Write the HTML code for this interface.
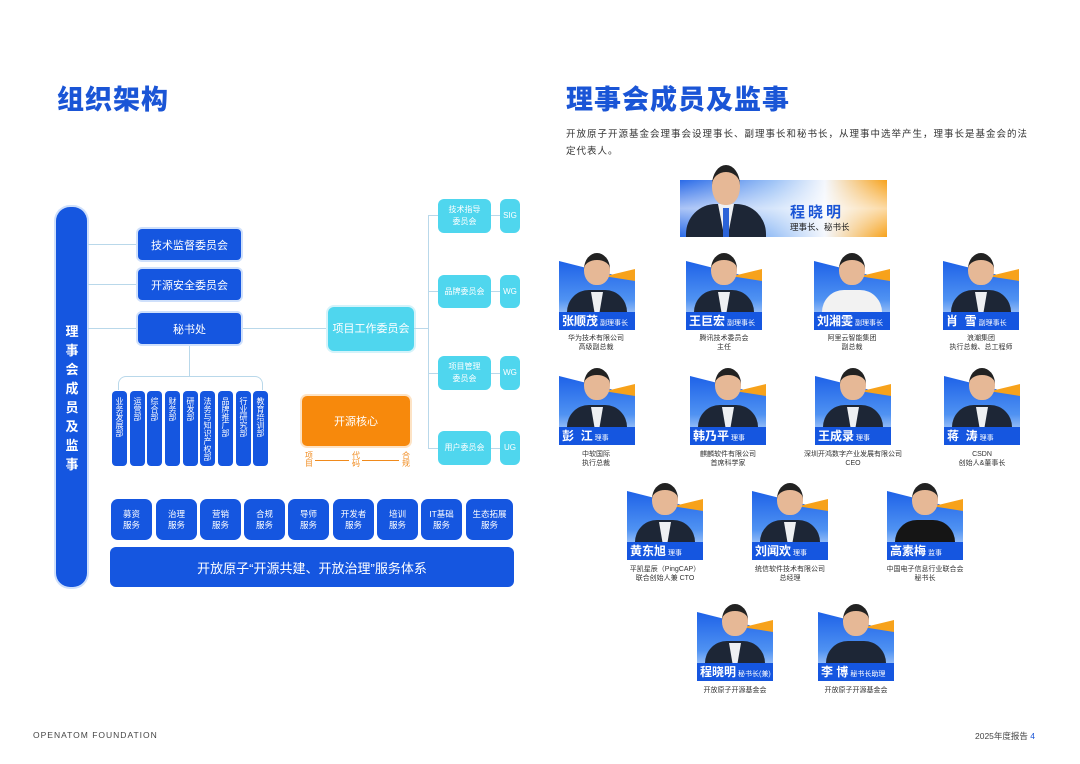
<!DOCTYPE html>
<html><head><meta charset="utf-8">
<style>
*{margin:0;padding:0;box-sizing:border-box}
body{width:1080px;height:764px;background:#fff;position:relative;overflow:hidden;font-family:"Liberation Sans","Noto Sans CJK SC",sans-serif}
.a{position:absolute}
.h1{font-size:27px;font-weight:900;color:#1a55d6;letter-spacing:1px}
.bb{background:#1556e0;color:#fff;border-radius:4px;display:flex;align-items:center;justify-content:center;font-size:11px;box-shadow:0 0 0 2px #cfe0fb}
.cy{background:#4fd6ee;color:#fff;border-radius:6px;display:flex;align-items:center;justify-content:center;text-align:center;font-size:8px;line-height:12px}
.ln{position:absolute;background:#b9d8ea}
.dp{position:absolute;top:391px;width:15px;height:75px;background:#1556e0;border-radius:4px;color:#fff;font-size:8px;line-height:9px;writing-mode:vertical-rl;padding-top:6px;display:flex;align-items:center}
.sv{position:absolute;top:499px;width:41px;height:41px;background:#1556e0;border-radius:7px;color:#fff;font-size:8.5px;line-height:11px;display:flex;align-items:center;justify-content:center;text-align:center}
.card{position:absolute;width:76px;height:77px}
.card .bg{position:absolute;left:0;top:8px;width:76px;height:64px;background:linear-gradient(180deg,#1e62e8,#4f92f2 60%,#cfe2fb);clip-path:polygon(0 0,100% 30%,100% 100%,0 100%)}
.card .or{position:absolute;right:0;top:16px;width:30px;height:12px;background:#f7a21b;clip-path:polygon(0 60%,100% 0,100% 100%)}
.card .body{position:absolute;left:8px;bottom:10px;width:60px;height:30px;background:#1d2636;border-radius:22px 22px 0 0}
.card .shirt{position:absolute;left:32px;bottom:10px;width:12px;height:28px;background:#eef0f3;clip-path:polygon(0 0,100% 0,60% 100%,40% 100%)}
.card .head{position:absolute;left:25px;top:0;width:26px;height:32px;background:#e6b896;border-radius:50% 50% 45% 45%;border-top:7px solid #222}
.card .bar{position:absolute;left:0;bottom:0;width:76px;height:18px;background:#1556e0;color:#fff;font-weight:bold;font-size:12px;line-height:18px;padding-left:3px;white-space:nowrap}
.card .bar span{font-size:7px;font-weight:normal;margin-left:2px}
.cap{position:absolute;width:140px;text-align:center;font-size:7px;line-height:9px;color:#333}
</style></head><body>

<div class="a h1" style="left:57px;top:78px">组织架构</div>
<div class="a h1" style="left:566px;top:78px">理事会成员及监事</div>
<div class="a" style="left:566px;top:126px;width:490px;font-size:9.5px;line-height:17px;color:#333;letter-spacing:1px;white-space:nowrap">开放原子开源基金会理事会设理事长、副理事长和秘书长，从理事中选举产生，理事长是基金会的法<br>定代表人。</div>

<!-- left diagram -->
<div class="a" style="left:56px;top:207px;width:31px;height:380px;background:#1556e0;border-radius:14px;box-shadow:0 0 0 2px #cfe0fb"></div>
<div class="a" style="left:63px;top:322px;width:18px;color:#fff;font-weight:bold;font-size:13px;line-height:19px;text-align:center">理事会成员及监事</div>

<div class="ln" style="left:88px;top:244px;width:50px;height:1px"></div>
<div class="ln" style="left:88px;top:284px;width:50px;height:1px"></div>
<div class="ln" style="left:88px;top:328px;width:50px;height:1px"></div>
<div class="ln" style="left:241px;top:328px;width:87px;height:1px"></div>
<div class="ln" style="left:189px;top:344px;width:1px;height:33px"></div>
<div class="a" style="left:118px;top:376px;width:145px;height:14px;border:1px solid #b9d8ea;border-bottom:none;border-radius:8px 8px 0 0"></div>

<div class="a bb" style="left:138px;top:229px;width:103px;height:31px">技术监督委员会</div>
<div class="a bb" style="left:138px;top:269px;width:103px;height:31px">开源安全委员会</div>
<div class="a bb" style="left:138px;top:313px;width:103px;height:31px">秘书处</div>

<div class="a cy" style="left:328px;top:307px;width:86px;height:44px;font-size:11px;box-shadow:0 0 0 2px #d4f3fa">项目工作委员会</div>
<div class="ln" style="left:414px;top:328px;width:14px;height:1px"></div>
<div class="ln" style="left:428px;top:215px;width:1px;height:233px"></div>
<div class="ln" style="left:428px;top:215px;width:10px;height:1px"></div>
<div class="ln" style="left:428px;top:291px;width:10px;height:1px"></div>
<div class="ln" style="left:428px;top:373px;width:10px;height:1px"></div>
<div class="ln" style="left:428px;top:448px;width:10px;height:1px"></div>
<div class="ln" style="left:491px;top:215px;width:9px;height:1px"></div>
<div class="ln" style="left:491px;top:291px;width:9px;height:1px"></div>
<div class="ln" style="left:491px;top:373px;width:9px;height:1px"></div>
<div class="ln" style="left:491px;top:448px;width:9px;height:1px"></div>
<div class="a cy" style="left:438px;top:199px;width:53px;height:34px">技术指导<br>委员会</div>
<div class="a cy" style="left:500px;top:199px;width:20px;height:34px">SIG</div>
<div class="a cy" style="left:438px;top:275px;width:53px;height:33px">品牌委员会</div>
<div class="a cy" style="left:500px;top:275px;width:20px;height:33px">WG</div>
<div class="a cy" style="left:438px;top:356px;width:53px;height:34px">项目管理<br>委员会</div>
<div class="a cy" style="left:500px;top:356px;width:20px;height:34px">WG</div>
<div class="a cy" style="left:438px;top:431px;width:53px;height:34px">用户委员会</div>
<div class="a cy" style="left:500px;top:431px;width:20px;height:34px">UG</div>

<div class="dp" style="left:112px">业务发展部</div>
<div class="dp" style="left:130px">运营部</div>
<div class="dp" style="left:147px">综合部</div>
<div class="dp" style="left:165px">财务部</div>
<div class="dp" style="left:183px">研发部</div>
<div class="dp" style="left:200px">法务与知识产权部</div>
<div class="dp" style="left:218px">品牌推广部</div>
<div class="dp" style="left:236px">行业研究部</div>
<div class="dp" style="left:253px">教育培训部</div>

<div class="a" style="left:302px;top:396px;width:108px;height:50px;background:#f7890c;border-radius:5px;color:#fff;font-size:11px;display:flex;align-items:center;justify-content:center;box-shadow:0 0 0 2px #fde3c5">开源核心</div>
<div class="a" style="left:305px;top:452px;font-size:8px;line-height:8px;color:#f08a1c;width:8px">项目</div>
<div class="a" style="left:352px;top:452px;font-size:8px;line-height:8px;color:#f08a1c;width:8px">代码</div>
<div class="a" style="left:402px;top:452px;font-size:8px;line-height:8px;color:#f08a1c;width:8px">合规</div>
<div class="a" style="left:315px;top:460px;width:34px;height:1px;background:#f08a1c"></div>
<div class="a" style="left:362px;top:460px;width:37px;height:1px;background:#f08a1c"></div>

<div class="sv" style="left:111px">募资<br>服务</div>
<div class="sv" style="left:156px">治理<br>服务</div>
<div class="sv" style="left:200px">营销<br>服务</div>
<div class="sv" style="left:244px">合规<br>服务</div>
<div class="sv" style="left:288px">导师<br>服务</div>
<div class="sv" style="left:333px">开发者<br>服务</div>
<div class="sv" style="left:377px">培训<br>服务</div>
<div class="sv" style="left:421px">IT基础<br>服务</div>
<div class="sv" style="left:466px;width:47px">生态拓展<br>服务</div>
<div class="a" style="left:110px;top:547px;width:404px;height:40px;background:#1556e0;border-radius:6px;color:#fff;font-size:13px;display:flex;align-items:center;justify-content:center">开放原子“开源共建、开放治理”服务体系</div>

<!-- top card -->
<div class="a" style="left:680px;top:180px;width:207px;height:57px;background:linear-gradient(90deg,#2a6ae8,#9cc2f6 45%,#f4f7fd 70%,#f7a21b);clip-path:polygon(0 0,100% 0,100% 100%,0 100%)"></div>
<div class="a" style="left:680px;top:180px;width:207px;height:57px;background:linear-gradient(180deg,rgba(255,255,255,0) 0,rgba(255,255,255,.6) 50%,rgba(255,255,255,0) 100%)"></div>
<div class="a" style="left:686px;top:204px;width:80px;height:33px;background:#1d2636;border-radius:30px 30px 0 0"></div>
<div class="a" style="left:718px;top:204px;width:16px;height:33px;background:#eef0f3;clip-path:polygon(0 0,100% 0,60% 100%,40% 100%)"></div>
<div class="a" style="left:723px;top:208px;width:6px;height:29px;background:#2b63d8"></div>
<div class="a" style="left:712px;top:165px;width:28px;height:40px;background:#e6b896;border-radius:50% 50% 45% 45%;border-top:7px solid #222"></div>
<div class="a" style="left:790px;top:201px;font-size:15px;font-weight:bold;color:#1a55d6;letter-spacing:3px">程晓明</div>
<div class="a" style="left:790px;top:221px;font-size:8.5px;color:#222">理事长、秘书长</div>

<!-- row1 -->
<div class="card" style="left:559px;top:253px"><div class="bg"></div><div class="or"></div><div class="body"></div><div class="shirt"></div><div class="head"></div><div class="bar">张顺茂<span>副理事长</span></div></div>
<div class="cap" style="left:526px;top:334px">华为技术有限公司<br>高级副总裁</div>
<div class="card" style="left:686px;top:253px"><div class="bg"></div><div class="or"></div><div class="body"></div><div class="shirt"></div><div class="head"></div><div class="bar">王巨宏<span>副理事长</span></div></div>
<div class="cap" style="left:654px;top:334px">腾讯技术委员会<br>主任</div>
<div class="card" style="left:814px;top:253px"><div class="bg"></div><div class="or"></div><div class="body" style="background:#f2f2f2"></div><div class="head"></div><div class="bar">刘湘雯<span>副理事长</span></div></div>
<div class="cap" style="left:782px;top:334px">阿里云智能集团<br>副总裁</div>
<div class="card" style="left:943px;top:253px"><div class="bg"></div><div class="or"></div><div class="body"></div><div class="shirt"></div><div class="head"></div><div class="bar">肖&nbsp;&nbsp;雪<span>副理事长</span></div></div>
<div class="cap" style="left:911px;top:334px">浪潮集团<br>执行总裁、总工程师</div>

<!-- row2 -->
<div class="card" style="left:559px;top:368px"><div class="bg"></div><div class="or"></div><div class="body"></div><div class="shirt"></div><div class="head"></div><div class="bar">彭&nbsp;&nbsp;江<span>理事</span></div></div>
<div class="cap" style="left:526px;top:450px">中软国际<br>执行总裁</div>
<div class="card" style="left:690px;top:368px"><div class="bg"></div><div class="or"></div><div class="body"></div><div class="shirt"></div><div class="head"></div><div class="bar">韩乃平<span>理事</span></div></div>
<div class="cap" style="left:658px;top:450px">麒麟软件有限公司<br>首席科学家</div>
<div class="card" style="left:815px;top:368px"><div class="bg"></div><div class="or"></div><div class="body"></div><div class="shirt"></div><div class="head"></div><div class="bar">王成录<span>理事</span></div></div>
<div class="cap" style="left:783px;top:450px">深圳开鸿数字产业发展有限公司<br>CEO</div>
<div class="card" style="left:944px;top:368px"><div class="bg"></div><div class="or"></div><div class="body"></div><div class="shirt"></div><div class="head"></div><div class="bar">蒋&nbsp;&nbsp;涛<span>理事</span></div></div>
<div class="cap" style="left:912px;top:450px">CSDN<br>创始人&amp;董事长</div>

<!-- row3 -->
<div class="card" style="left:627px;top:483px"><div class="bg"></div><div class="or"></div><div class="body"></div><div class="shirt"></div><div class="head"></div><div class="bar">黄东旭<span>理事</span></div></div>
<div class="cap" style="left:595px;top:565px">平凯星辰（PingCAP）<br>联合创始人兼 CTO</div>
<div class="card" style="left:752px;top:483px"><div class="bg"></div><div class="or"></div><div class="body"></div><div class="shirt"></div><div class="head"></div><div class="bar">刘闻欢<span>理事</span></div></div>
<div class="cap" style="left:720px;top:565px">统信软件技术有限公司<br>总经理</div>
<div class="card" style="left:887px;top:483px"><div class="bg"></div><div class="or"></div><div class="body" style="background:#151515"></div><div class="head"></div><div class="bar">高素梅<span>监事</span></div></div>
<div class="cap" style="left:855px;top:565px">中国电子信息行业联合会<br>秘书长</div>

<!-- row4 -->
<div class="card" style="left:697px;top:604px"><div class="bg"></div><div class="or"></div><div class="body"></div><div class="shirt"></div><div class="head"></div><div class="bar">程晓明<span>秘书长(兼)</span></div></div>
<div class="cap" style="left:665px;top:686px">开放原子开源基金会</div>
<div class="card" style="left:818px;top:604px"><div class="bg"></div><div class="or"></div><div class="body"></div><div class="head"></div><div class="bar">李&nbsp;博<span>秘书长助理</span></div></div>
<div class="cap" style="left:786px;top:686px">开放原子开源基金会</div>

<div class="a" style="left:33px;top:730px;font-size:8.5px;letter-spacing:1px;color:#444">OPENATOM FOUNDATION</div>
<div class="a" style="left:975px;top:730px;font-size:8.5px;color:#444">2025年度报告 <span style="color:#1a55d6">4</span></div>
</body></html>
